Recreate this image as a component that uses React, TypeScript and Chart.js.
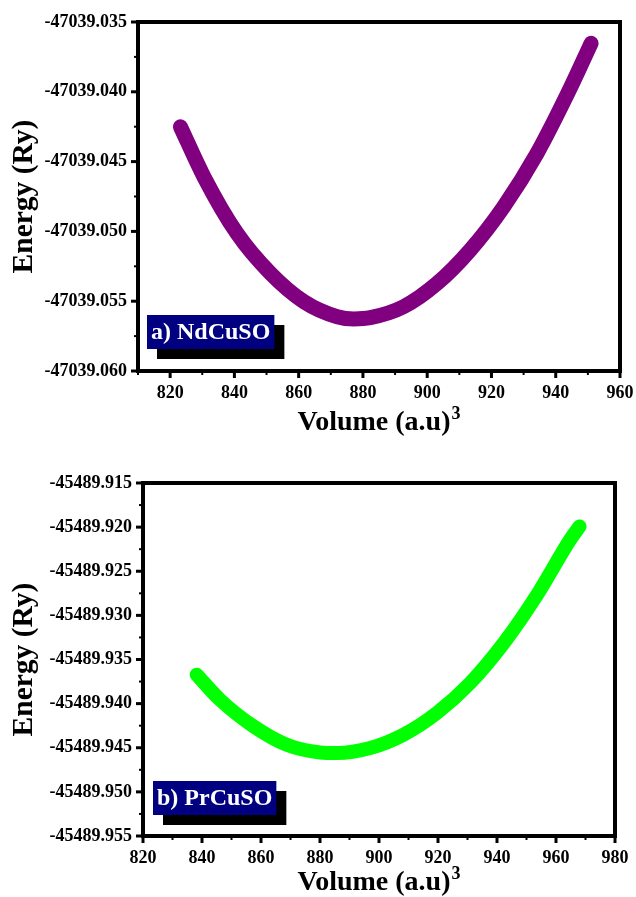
import React, { useEffect, useRef } from 'react';
import { Chart, registerables } from 'chart.js';

Chart.register(...registerables);

// ---- Data: (a) NdCuSO ----
const ndVolume = [823.2, 830.5, 840.8, 851.2, 861.6, 872.0, 877.2, 882.3, 892.7, 903.1, 913.4, 923.8, 934.2, 944.5, 951.0];
const ndEnergy = [-47039.0425, -47039.04608, -47039.05014, -47039.053, -47039.05503, -47039.05611, -47039.05627, -47039.05618, -47039.05539, -47039.05372, -47039.05133, -47039.04823, -47039.0444, -47039.03975, -47039.03653];
const ndXTicks = [820, 840, 860, 880, 900, 920, 940, 960];
const ndXMinor = [810, 830, 850, 870, 890, 910, 930, 950];
const ndYTicks = [-47039.06, -47039.055, -47039.05, -47039.045, -47039.04, -47039.035];
const ndYMinor = [-47039.0575, -47039.0525, -47039.0475, -47039.0425, -47039.0375];

// ---- Data: (b) PrCuSO ----
const prVolume = [838.2, 846.1, 857.5, 868.7, 880.0, 885.7, 897.0, 908.3, 919.6, 930.9, 942.3, 953.6, 964.8, 968.0];
const prEnergy = [-45489.93672, -45489.93956, -45489.94258, -45489.94466, -45489.94553, -45489.9456, -45489.94503, -45489.94352, -45489.94106, -45489.93766, -45489.93313, -45489.92766, -45489.92142, -45489.91992];
const prXTicks = [820, 840, 860, 880, 900, 920, 940, 960, 980];
const prXMinor = [830, 850, 870, 890, 910, 930, 950, 970];
const prYTicks = [-45489.955, -45489.95, -45489.945, -45489.94, -45489.935, -45489.93, -45489.925, -45489.92, -45489.915];
const prYMinor = [-45489.9525, -45489.9475, -45489.9425, -45489.9375, -45489.9325, -45489.9275, -45489.9225, -45489.9175];

const X_TITLE = 'Volume (a.u)';
const X_TITLE_SUP = '3';
const Y_TITLE = 'Energy (Ry)';

const FONT = "'Liberation Serif', 'Times New Roman', serif";

type Props = {
  volume: number[];
  energy: number[];
  color: string;
  lineWidth: number;
  xTicks: number[];
  xMinor: number[];
  yTicks: number[];
  yMinor: number[];
  xMin: number;
  xMax: number;
  label: string;
  top: number;
  height: number;
  yAxisWidth: number;
  xAxisHeight: number;
  padTop: number;
  padRight: number;
  boxDx: number;
  boxDy: number;
  xTitleBaseline: number;
};

function EnergyChart(p: Props) {
  const ref = useRef<HTMLCanvasElement | null>(null);
  useEffect(() => {
    if (!ref.current) return;
    const framePlugin = {
      id: 'frameTicks',
      afterDraw(chart: any) {
        const ctx = chart.ctx;
        const { left, right, top, bottom } = chart.chartArea;
        const xs = chart.scales.x;
        const ys = chart.scales.y;
        ctx.save();
        ctx.strokeStyle = '#000';
        ctx.lineCap = 'butt';
        ctx.lineWidth = 3;
        p.xTicks.forEach((v) => {
          const x = xs.getPixelForValue(v);
          ctx.beginPath(); ctx.moveTo(x, bottom); ctx.lineTo(x, bottom + 7); ctx.stroke();
        });
        p.yTicks.forEach((v) => {
          const y = ys.getPixelForValue(v);
          ctx.beginPath(); ctx.moveTo(left, y); ctx.lineTo(left - 7, y); ctx.stroke();
        });
        ctx.lineWidth = 2;
        p.xMinor.forEach((v) => {
          const x = xs.getPixelForValue(v);
          ctx.beginPath(); ctx.moveTo(x, bottom); ctx.lineTo(x, bottom + 4); ctx.stroke();
        });
        p.yMinor.forEach((v) => {
          const y = ys.getPixelForValue(v);
          ctx.beginPath(); ctx.moveTo(left, y); ctx.lineTo(left - 4, y); ctx.stroke();
        });
        ctx.lineWidth = 4;
        ctx.strokeRect(left, top, right - left, bottom - top);

        // x-axis title with superscript
        ctx.fillStyle = '#000';
        ctx.textBaseline = 'alphabetic';
        ctx.textAlign = 'left';
        ctx.font = `bold 28px ${FONT}`;
        const mainW = ctx.measureText(X_TITLE).width;
        ctx.font = `bold 18px ${FONT}`;
        const supW = ctx.measureText(X_TITLE_SUP).width;
        const totalW = mainW + 1 + supW;
        const tx = (left + right) / 2 - totalW / 2;
        const ty = bottom + p.xTitleBaseline;
        ctx.font = `bold 28px ${FONT}`;
        ctx.fillText(X_TITLE, tx, ty);
        ctx.font = `bold 18px ${FONT}`;
        ctx.fillText(X_TITLE_SUP, tx + mainW + 1, ty - 11);

        // label box
        ctx.font = `bold 24px ${FONT}`;
        const tw = ctx.measureText(p.label).width;
        const bw = tw + 8;
        const bh = 34;
        const bx = left + p.boxDx;
        const by = bottom - p.boxDy;
        ctx.fillStyle = '#000';
        ctx.fillRect(bx + 10, by + 10, bw, bh);
        ctx.fillStyle = '#000080';
        ctx.fillRect(bx, by, bw, bh);
        ctx.fillStyle = '#fff';
        ctx.textBaseline = 'middle';
        ctx.fillText(p.label, bx + 4, by + bh / 2 + 1);
        ctx.restore();
      },
    };
    const chart = new Chart(ref.current, {
      type: 'line',
      data: {
        datasets: [
          {
            data: p.volume.map((v, i) => ({ x: v, y: p.energy[i] })),
            borderColor: p.color,
            backgroundColor: p.color,
            borderWidth: p.lineWidth,
            borderCapStyle: 'round',
            borderJoinStyle: 'round',
            pointRadius: 0,
            cubicInterpolationMode: 'monotone',
            fill: false,
          },
        ],
      },
      options: {
        animation: false,
        responsive: true,
        maintainAspectRatio: false,
        layout: { padding: { top: p.padTop, right: p.padRight, left: 0, bottom: 0 } },
        plugins: { legend: { display: false }, tooltip: { enabled: false } },
        scales: {
          x: {
            type: 'linear',
            min: p.xMin,
            max: p.xMax,
            afterBuildTicks: (s: any) => { s.ticks = p.xTicks.map((v) => ({ value: v })); },
            afterFit: (s: any) => { s.height = p.xAxisHeight; s.paddingLeft = 0; s.paddingRight = 0; },
            grid: { display: false, drawTicks: false },
            border: { display: false },
            ticks: {
              color: '#000',
              padding: 12,
              maxRotation: 0,
              font: { family: FONT, size: 18, weight: 'bold' },
              callback: (v: any) => String(v),
            },
            title: { display: false },
          },
          y: {
            type: 'linear',
            min: p.yTicks[0],
            max: p.yTicks[p.yTicks.length - 1],
            afterBuildTicks: (s: any) => { s.ticks = p.yTicks.map((v) => ({ value: v })); },
            afterFit: (s: any) => { s.width = p.yAxisWidth; s.paddingTop = 0; s.paddingBottom = 0; },
            grid: { display: false, drawTicks: false },
            border: { display: false },
            ticks: {
              color: '#000',
              padding: 11,
              font: { family: FONT, size: 18, weight: 'bold' },
              callback: (v: any) => Number(v).toFixed(3),
            },
            title: {
              display: true,
              text: Y_TITLE,
              color: '#000',
              font: { family: FONT, size: 29.5, weight: 'bold' },
              padding: { top: 7, bottom: 0 },
            },
          },
        },
      } as any,
      plugins: [framePlugin],
    });
    return () => chart.destroy();
  }, []);
  return (
    <div style={{ position: 'absolute', left: 0, top: p.top, width: 636, height: p.height }}>
      <canvas ref={ref} />
    </div>
  );
}

export default function App() {
  return (
    <div style={{ position: 'absolute', left: 0, top: 0, width: 636, height: 897, background: '#fff', overflow: 'hidden' }}>
      <EnergyChart
        volume={ndVolume}
        energy={ndEnergy}
        color="#800080"
        lineWidth={15}
        xTicks={ndXTicks}
        xMinor={ndXMinor}
        yTicks={ndYTicks}
        yMinor={ndYMinor}
        xMin={810}
        xMax={960}
        label="a) NdCuSO"
        top={0}
        height={445}
        yAxisWidth={138}
        xAxisHeight={74}
        padTop={22}
        padRight={16}
        boxDx={9}
        boxDy={56}
        xTitleBaseline={59}
      />
      <EnergyChart
        volume={prVolume}
        energy={prEnergy}
        color="#00ff00"
        lineWidth={14}
        xTicks={prXTicks}
        xMinor={prXMinor}
        yTicks={prYTicks}
        yMinor={prYMinor}
        xMin={820}
        xMax={980}
        label="b) PrCuSO"
        top={445}
        height={452}
        yAxisWidth={143}
        xAxisHeight={61}
        padTop={38}
        padRight={21}
        boxDx={10}
        boxDy={55}
        xTitleBaseline={54}
      />
    </div>
  );
}
